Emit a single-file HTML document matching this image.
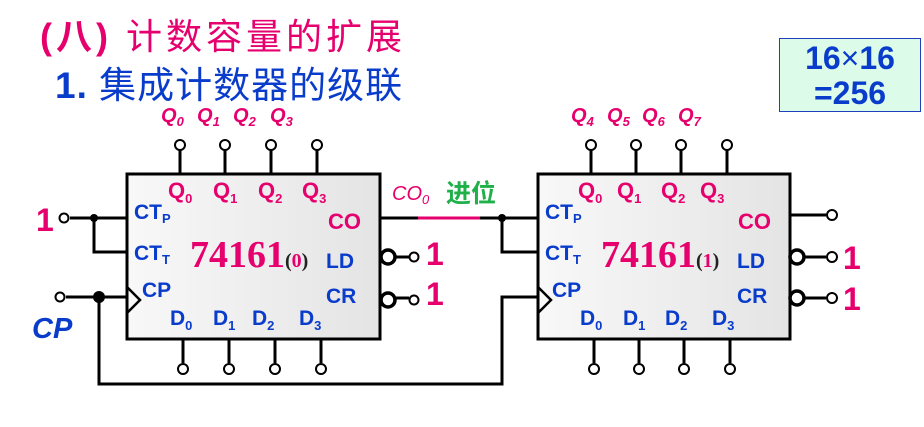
<!DOCTYPE html>
<html><head><meta charset="utf-8"><style>
body{margin:0;width:924px;height:427px;background:#fff;overflow:hidden;position:relative;font-family:"Liberation Sans","Noto Sans CJK SC",sans-serif}
.t{position:absolute;white-space:nowrap}
</style></head><body>
<div class="t" style="left:40px;top:8px;font-size:36px;color:#e6006e;font-weight:bold;letter-spacing:4px">(八) <span style="font-weight:normal">计数容量的扩展</span></div>
<div class="t" style="left:55px;top:55px;font-size:37px;color:#0a3ccc;letter-spacing:1px"><b>1.</b> 集成计数器的级联</div>
<div class="t" style="left:779px;top:38px;width:142px;height:74px;background:#dcfbe8;border:1px solid #1f3fbf;box-sizing:border-box;color:#0a3ccc;font-weight:bold;font-size:32px;text-align:center;line-height:35px;padding-top:2px">16<span style="font-weight:normal">×</span>16<br>=256</div>
<svg width="924" height="427" style="position:absolute;left:0;top:0" font-family="Liberation Sans, sans-serif">
<defs><linearGradient id="g" x1="0" x2="1"><stop offset="0" stop-color="#f8f8f8"/><stop offset="1" stop-color="#e4e4e4"/></linearGradient></defs>
<g stroke="#000" stroke-width="3" fill="none">
<rect x="127" y="174" width="253" height="165" fill="url(#g)"/>
<rect x="538" y="174" width="252" height="165" fill="url(#g)"/>
<path d="M180 150V174M225 150V174M271 150V174M317 150V174M183 339V363M229 339V363M275 339V363M321 339V363"/>
<path d="M591 150V174M636 150V174M681 150V174M727 150V174M594 339V363M639 339V363M684 339V363M730 339V363"/>
<path d="M70 218H127M94 218V252H127M66 297H127M99 297V384H502V297H538M380 218H538M502 218V252H538M790 215H826"/>
<path d="M127 287L140 300L127 313M538 287L551 300L538 313" stroke-width="2.5"/>
<path d="M394 257H409M394 298H409M803 257H826M803 298H826"/>
</g>
<path d="M418 218H480" stroke="#e6006e" stroke-width="3"/>
<g fill="#fff" stroke="#000" stroke-width="2">
<circle cx="180" cy="145" r="5"/><circle cx="225" cy="145" r="5"/><circle cx="271" cy="145" r="5"/><circle cx="317" cy="145" r="5"/>
<circle cx="183" cy="369" r="5"/><circle cx="229" cy="369" r="5"/><circle cx="275" cy="369" r="5"/><circle cx="321" cy="369" r="5"/>
<circle cx="591" cy="145" r="5"/><circle cx="636" cy="145" r="5"/><circle cx="681" cy="145" r="5"/><circle cx="727" cy="145" r="5"/>
<circle cx="594" cy="369" r="5"/><circle cx="639" cy="369" r="5"/><circle cx="684" cy="369" r="5"/><circle cx="730" cy="369" r="5"/>
<circle cx="64" cy="218" r="4.5"/><circle cx="60" cy="297" r="4.5"/><circle cx="414" cy="257" r="4.5"/><circle cx="414" cy="300" r="4.5"/>
<circle cx="832" cy="215" r="5"/><circle cx="832" cy="257" r="5"/><circle cx="832" cy="298" r="5"/>
<circle cx="388" cy="257" r="7" stroke-width="3.5"/><circle cx="388" cy="300" r="7" stroke-width="3.5"/>
<circle cx="797" cy="257" r="7" stroke-width="3.5"/><circle cx="797" cy="298" r="7" stroke-width="3.5"/>
</g>
<circle cx="94" cy="218" r="4"/><circle cx="99" cy="297" r="6"/><circle cx="502" cy="218" r="4"/>
<g font-size="20" font-weight="bold" fill="#e6006e" font-style="italic">
<text x="161" y="122">Q<tspan font-size="13" dy="4">0</tspan></text><text x="197" y="122">Q<tspan font-size="13" dy="4">1</tspan></text><text x="233" y="122">Q<tspan font-size="13" dy="4">2</tspan></text><text x="270" y="122">Q<tspan font-size="13" dy="4">3</tspan></text>
<text x="571" y="122">Q<tspan font-size="13" dy="4">4</tspan></text><text x="607" y="122">Q<tspan font-size="13" dy="4">5</tspan></text><text x="642" y="122">Q<tspan font-size="13" dy="4">6</tspan></text><text x="678" y="122">Q<tspan font-size="13" dy="4">7</tspan></text>
<text x="392" y="200" font-weight="normal">CO<tspan font-size="13" dy="4">0</tspan></text>
</g>
<text x="446" y="202" font-size="25" font-weight="bold" fill="#20b04a" font-family="Noto Sans CJK SC, sans-serif">进位</text>
<g font-size="22" font-weight="bold" fill="#e6006e">
<text x="168" y="198">Q<tspan font-size="13" dy="5">0</tspan></text><text x="213" y="198">Q<tspan font-size="13" dy="5">1</tspan></text><text x="258" y="198">Q<tspan font-size="13" dy="5">2</tspan></text><text x="302" y="198">Q<tspan font-size="13" dy="5">3</tspan></text>
<text x="328" y="229">CO</text>
<text x="578" y="198">Q<tspan font-size="13" dy="5">0</tspan></text><text x="617" y="198">Q<tspan font-size="13" dy="5">1</tspan></text><text x="661" y="198">Q<tspan font-size="13" dy="5">2</tspan></text><text x="700" y="198">Q<tspan font-size="13" dy="5">3</tspan></text>
<text x="738" y="229">CO</text>
<g font-size="32"><text x="36" y="231">1</text><text x="426" y="265">1</text><text x="426" y="305">1</text><text x="843" y="269">1</text><text x="843" y="310">1</text></g>
</g>
<g font-family="Liberation Serif, serif" font-weight="bold">
<text x="190" y="267" font-size="38" fill="#e6006e">74161<tspan font-size="20" fill="#222">(</tspan><tspan font-size="20">0</tspan><tspan font-size="20" fill="#222">)</tspan></text>
<text x="601" y="267" font-size="38" fill="#e6006e">74161<tspan font-size="20" fill="#222">(</tspan><tspan font-size="20">1</tspan><tspan font-size="20" fill="#222">)</tspan></text>
</g>
<g font-size="21" font-weight="bold" fill="#0a3ccc">
<text x="134" y="219">CT<tspan font-size="13" dy="4">P</tspan></text><text x="134" y="260">CT<tspan font-size="13" dy="4">T</tspan></text><text x="142" y="297">CP</text>
<text x="326" y="268">LD</text><text x="326" y="303">CR</text>
<text x="170" y="325">D<tspan font-size="13" dy="5">0</tspan></text><text x="213" y="325">D<tspan font-size="13" dy="5">1</tspan></text><text x="252" y="325">D<tspan font-size="13" dy="5">2</tspan></text><text x="299" y="325">D<tspan font-size="13" dy="5">3</tspan></text>
<text x="545" y="219">CT<tspan font-size="13" dy="4">P</tspan></text><text x="545" y="260">CT<tspan font-size="13" dy="4">T</tspan></text><text x="552" y="297">CP</text>
<text x="737" y="268">LD</text><text x="737" y="303">CR</text>
<text x="580" y="325">D<tspan font-size="13" dy="5">0</tspan></text><text x="623" y="325">D<tspan font-size="13" dy="5">1</tspan></text><text x="665" y="325">D<tspan font-size="13" dy="5">2</tspan></text><text x="712" y="325">D<tspan font-size="13" dy="5">3</tspan></text>
<text x="32" y="338" font-size="29" font-style="italic">CP</text>
</g>
</svg>
</body></html>
